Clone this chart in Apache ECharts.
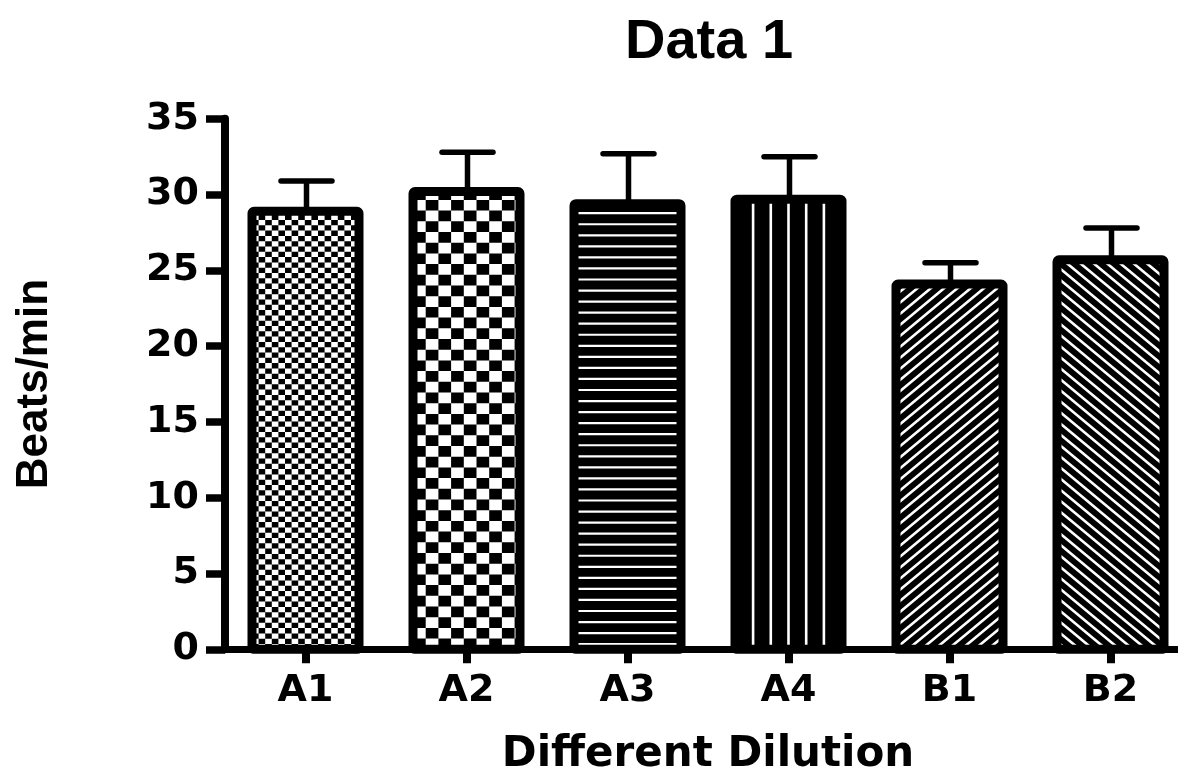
<!DOCTYPE html>
<html><head><meta charset="utf-8">
<script src="https://cdn.jsdelivr.net/npm/echarts@6/dist/echarts.min.js"></script>
<style>html,body{margin:0;padding:0;background:#fff}#c{width:1178px;height:772px}</style>
</head><body><div id="c"></div>
<script>
const categories = ['A1', 'A2', 'A3', 'A4', 'B1', 'B2'];
const means = [28.9, 30.2, 29.4, 29.7, 24.1, 25.7];
const sems = [2.0, 2.6, 3.3, 2.8, 1.4, 2.1];
const fills = ['fineCheck', 'check', 'hlines', 'vlines', 'diagUp', 'diagDown'];
const yMin = 0, yMax = 35, yStep = 5;

function clipLine(px, py, dx, dy, rx0, ry0, rx1, ry1) {
  let t0 = -Infinity, t1 = Infinity;
  const p = [-dx, dx, -dy, dy];
  const q = [px - rx0, rx1 - px, py - ry0, ry1 - py];
  for (let k = 0; k < 4; k++) {
    if (p[k] === 0) { if (q[k] < 0) return null; continue; }
    const t = q[k] / p[k];
    if (p[k] < 0) t0 = Math.max(t0, t); else t1 = Math.min(t1, t);
  }
  if (t0 >= t1) return null;
  return [px + dx * t0, py + dy * t0, px + dx * t1, py + dy * t1];
}

function renderBar(params, api) {
  const i = api.value(0);
  const top = api.coord([i, api.value(1)]);
  const base = api.coord([i, 0]);
  const band = api.size([1, 0])[0];
  const w = band * 107 / 161;
  const cx = top[0];
  const x0 = cx - w / 2, x1 = cx + w / 2, y0 = top[1], y1 = base[1];
  const kind = fills[params.dataIndex];
  const dark = kind !== 'fineCheck' && kind !== 'check';
  const ch = [];
  ch.push({type: 'rect', shape: {x: x0, y: y0, width: w, height: y1 - y0}, style: {fill: dark ? '#000' : '#fff'}});
  if (!dark) {
    const cw = kind === 'check' ? 12.7 : 6.6;
    const chh = kind === 'check' ? 10.7 : 5.3;
    let d = '';
    let row = 0;
    for (let yy = y1; yy > y0 + 0.01; yy -= chh, row++) {
      let col = 0;
      for (let xx = x0; xx < x1 - 0.01; xx += cw, col++) {
        if ((row + col) % 2 === 0) {
          const ya = Math.max(y0, yy - chh);
          const xb = Math.min(x1, xx + cw);
          d += 'M' + xx.toFixed(2) + ' ' + ya.toFixed(2) + 'L' + xb.toFixed(2) + ' ' + ya.toFixed(2) +
               'L' + xb.toFixed(2) + ' ' + yy.toFixed(2) + 'L' + xx.toFixed(2) + ' ' + yy.toFixed(2) + 'Z';
        }
      }
    }
    ch.push({type: 'path', shape: {pathData: d}, style: {fill: '#000'}});
  } else if (kind === 'hlines') {
    for (let yy = y0 + 9.5; yy < y1 - 4; yy += 11.05) {
      ch.push({type: 'rect', shape: {x: x0, y: yy - 1.1, width: w, height: 2.2}, style: {fill: '#fff'}});
    }
  } else if (kind === 'vlines') {
    for (let k = -2; k <= 2; k++) {
      ch.push({type: 'rect', shape: {x: cx + k * 17.7 - 1.3, y: y0, width: 2.6, height: y1 - y0}, style: {fill: '#fff'}});
    }
  } else {
    const m = 0.83, per = 13.3;
    const dy = kind === 'diagUp' ? -m : m;
    const span = (y1 - y0) / m + per;
    let d = '';
    for (let xk = x0 - span; xk < x1 + span; xk += per) {
      const s = clipLine(xk, y1, 1, dy, x0, y0, x1, y1);
      if (s) d += 'M' + s[0].toFixed(2) + ' ' + s[1].toFixed(2) + 'L' + s[2].toFixed(2) + ' ' + s[3].toFixed(2);
    }
    ch.push({type: 'path', shape: {pathData: d}, style: {fill: null, stroke: '#fff', lineWidth: 2.6}});
  }
  ch.push({type: 'rect', shape: {x: x0, y: y0, width: w, height: y1 - y0, r: 2}, style: {fill: null, stroke: '#000', lineWidth: 9}});
  return {type: 'group', children: ch};
}

function renderErr(params, api) {
  const i = api.value(0), m = api.value(1), e = api.value(2);
  const p0 = api.coord([i, m]);
  const p1 = api.coord([i, m + e]);
  const band = api.size([1, 0])[0];
  const half = band * 25.5 / 161;
  const cx = p0[0] + 1;
  return {type: 'group', children: [
    {type: 'line', shape: {x1: cx, y1: p0[1], x2: cx, y2: p1[1]}, style: {stroke: '#000', lineWidth: 5.5}},
    {type: 'line', shape: {x1: cx - half, y1: p1[1], x2: cx + half, y2: p1[1]}, style: {stroke: '#000', lineWidth: 5.5, lineCap: 'round'}}
  ]};
}

const chart = echarts.init(document.getElementById('c'), null, {renderer: 'canvas'});
chart.setOption({
  backgroundColor: '#fff',
  animation: false,
  textStyle: {fontFamily: 'DejaVu Sans'},
  title: {
    text: 'Data 1', left: 704, top: 10, textAlign: 'center',
    textStyle: {fontFamily: 'Liberation Sans', fontSize: 56, fontWeight: 'bold', color: '#000'}
  },
  grid: {left: 225, top: 118.8, width: 966, height: 530.5, containLabel: false, outerBoundsMode: 'none'},
  xAxis: {
    type: 'category', data: categories,
    name: 'Different Dilution', nameLocation: 'middle', nameGap: 85,
    nameTextStyle: {fontFamily: 'DejaVu Sans', fontSize: 42, fontWeight: 'bold', color: '#000'},
    axisLine: {show: true, lineStyle: {color: '#000', width: 7}},
    axisTick: {show: true, alignWithLabel: true, length: 14, lineStyle: {color: '#000', width: 8}},
    axisLabel: {fontFamily: 'DejaVu Sans', fontSize: 38, fontWeight: 'bold', color: '#000', margin: 23},
    splitLine: {show: false}
  },
  yAxis: {
    type: 'value', min: yMin, max: yMax, interval: yStep,
    name: 'Beats/min', nameLocation: 'middle', nameGap: 168,
    nameTextStyle: {fontFamily: 'Liberation Sans', fontSize: 44, fontWeight: 'bold', color: '#000'},
    axisLine: {show: true, lineStyle: {color: '#000', width: 8}},
    axisTick: {show: true, length: 19, lineStyle: {color: '#000', width: 7.5}},
    axisLabel: {fontFamily: 'DejaVu Sans', fontSize: 38, fontWeight: 'bold', color: '#000', margin: 26},
    splitLine: {show: false}
  },
  series: [
    {type: 'custom', renderItem: renderBar, data: means.map((v, i) => [i, v]), encode: {x: 0, y: 1}, z: 2},
    {type: 'custom', renderItem: renderErr, data: means.map((v, i) => [i, v, sems[i]]), encode: {x: 0, y: 1}, z: 3}
  ]
});
</script>
</body></html>
